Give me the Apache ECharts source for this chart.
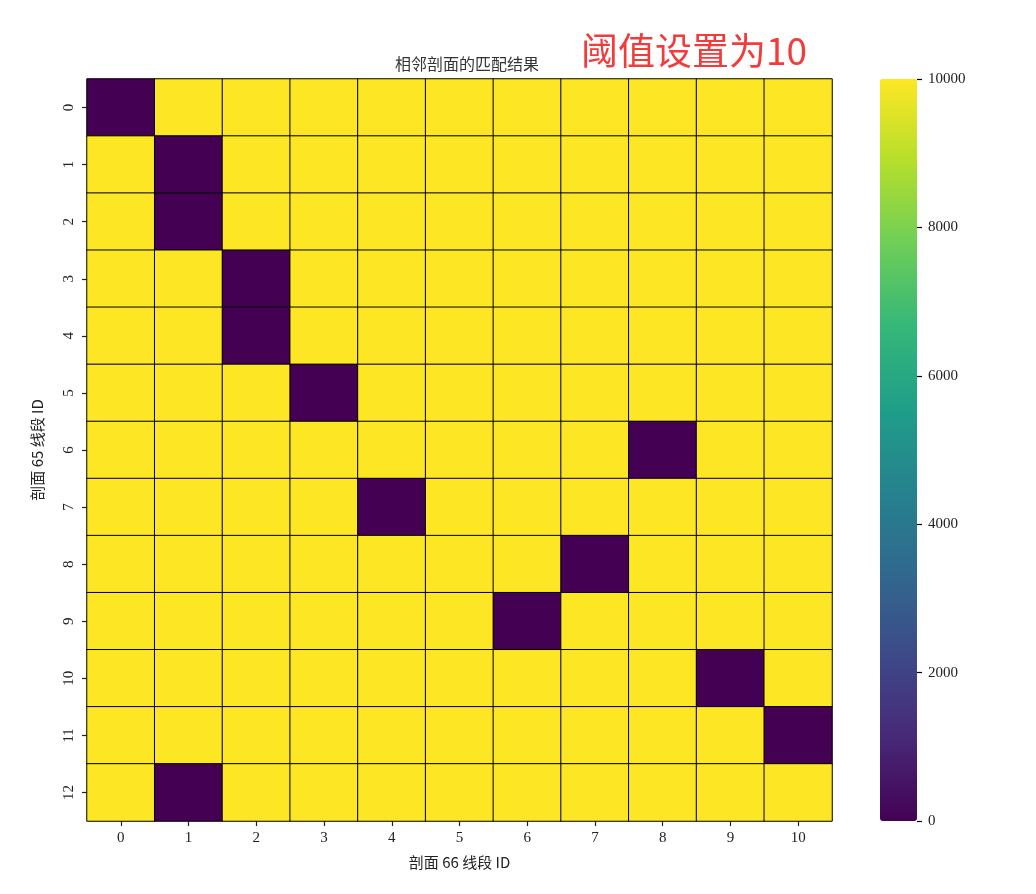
<!DOCTYPE html>
<html>
<head>
<meta charset="utf-8">
<script src="https://cdn.jsdelivr.net/npm/echarts@6/dist/echarts.min.js"></script>
<style>
  html,body{margin:0;padding:0;background:#fff;}
  #chart{width:1036px;height:894px;}
</style>
</head>
<body>
<div id="chart"></div>
<script>
// 列：剖面 66 线段 ID，行：剖面 65 线段 ID
var xCats = ['0','1','2','3','4','5','6','7','8','9','10'];
var yCats = ['0','1','2','3','4','5','6','7','8','9','10','11','12'];
// 每行匹配上的列（值为 0），其余为 10000
var matchCol = [0, 1, 1, 2, 2, 3, 8, 4, 7, 6, 9, 10, 1];
var noMatch = 10000;
var cbTicks = [0, 2000, 4000, 6000, 8000, 10000];
var viridis = ['#440154','#482878','#3e4989','#31688e','#26828e','#1f9e89','#35b779','#6ece58','#b5de2b','#fde725'];

var cells = [];
for (var r = 0; r < yCats.length; r++) {
  for (var c = 0; c < xCats.length; c++) {
    cells.push([c, r, c === matchCol[r] ? 0 : noMatch]);
  }
}

var serif = 'Liberation Serif, DejaVu Serif, serif';
var cjk = 'Noto Sans CJK SC, sans-serif';

var chart = echarts.init(document.getElementById('chart'));
chart.setOption({
  backgroundColor: '#fff',
  animation: false,
  title: [{
    text: '相邻剖面的匹配结果',
    left: 462, top: 51, textAlign: 'center',
    textStyle: {fontFamily: cjk, fontSize: 16, fontWeight: 'normal', color: '#333'}
  }, {
    text: '阈值设置为10',
    left: 576, top: 27,
    textStyle: {fontFamily: cjk, fontSize: 37, fontWeight: 'normal', color: '#f23b3b'}
  }],
  grid: [
    {left: 87, top: 79, width: 745, height: 742},
    // 色条刻度用的窄坐标系，贴在色条右边
    {left: 917, top: 79, width: 1, height: 742}
  ],
  xAxis: [{
    type: 'category', data: xCats, gridIndex: 0,
    name: '剖面 66 线段 ID', nameLocation: 'middle', nameGap: 34,
    nameTextStyle: {fontFamily: cjk, fontSize: 15, color: '#222'},
    axisLine: {show: false},
    axisTick: {show: true, alignWithLabel: true, length: 5, lineStyle: {color: '#222', width: 1.2}},
    axisLabel: {fontFamily: serif, fontSize: 15, color: '#222', margin: 10},
    splitLine: {show: false}
  }, {
    type: 'value', gridIndex: 1, show: false, min: 0, max: 1
  }],
  yAxis: [{
    type: 'category', data: yCats, gridIndex: 0, inverse: true,
    name: '剖面 65 线段 ID', nameLocation: 'middle', nameGap: 42, nameRotate: 90,
    nameTextStyle: {fontFamily: cjk, fontSize: 15, color: '#222'},
    axisLine: {show: false},
    axisTick: {show: true, alignWithLabel: true, length: 5, lineStyle: {color: '#222', width: 1.2}},
    axisLabel: {fontFamily: serif, fontSize: 15, color: '#222', rotate: 90, margin: 10},
    splitLine: {show: false}
  }, {
    type: 'value', gridIndex: 1, position: 'right', min: 0, max: 10000, interval: 2000,
    axisLine: {show: false},
    axisTick: {show: true, length: 5, lineStyle: {color: '#000', width: 1.2}},
    axisLabel: {fontFamily: serif, fontSize: 15, color: '#222', margin: 10,
      formatter: function (v) { return cbTicks.indexOf(v) >= 0 ? String(v) : ''; }},
    splitLine: {show: false},
    z: 10
  }],
  visualMap: {
    type: 'continuous', min: 0, max: noMatch, calculable: false,
    seriesIndex: 0, inRange: {color: viridis},
    orient: 'vertical', left: 880, top: 79, itemWidth: 37, itemHeight: 742,
    padding: 0, text: null, showLabel: false
  },
  series: [{
    type: 'heatmap', xAxisIndex: 0, yAxisIndex: 0, data: cells,
    itemStyle: {borderColor: '#000', borderWidth: 1},
    emphasis: {disabled: true}
  }]
});
</script>
</body>
</html>
